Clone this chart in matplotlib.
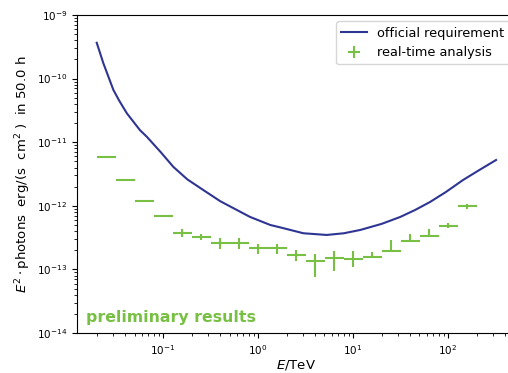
import matplotlib
matplotlib.use("Agg")
import matplotlib.pyplot as plt

# official requirement curve
req_energy = [0.02, 0.0235, 0.030, 0.0345, 0.0415, 0.057, 0.0673, 0.095,
              0.128, 0.18, 0.265, 0.40, 0.597, 0.82, 1.34, 1.79, 3.0, 5.28,
              8.0, 11.9, 20.0, 31.3, 45.0, 64.7, 95.0, 144, 210, 320]
req_sens = [3.66e-10, 1.74e-10, 6.6e-11, 4.5e-11, 2.85e-11, 1.55e-11,
            1.22e-11, 6.9e-12, 4.1e-12, 2.6e-12, 1.77e-12, 1.18e-12,
            8.6e-13, 6.7e-13, 5.0e-13, 4.5e-13, 3.7e-13, 3.48e-13,
            3.7e-13, 4.17e-13, 5.2e-13, 6.67e-13, 8.6e-13, 1.15e-12,
            1.65e-12, 2.55e-12, 3.6e-12, 5.25e-12]

# real-time analysis points, 5 bins per decade
bin_lo = [0.02, 0.0317, 0.0502, 0.0796, 0.126, 0.2, 0.317, 0.502, 0.796, 1.26,
          2.0, 3.17, 5.02, 7.96, 12.6, 20.0, 31.7, 50.2, 79.6, 126]
bin_hi = [0.0317, 0.0502, 0.0796, 0.126, 0.2, 0.317, 0.502, 0.796, 1.26, 2.0,
          3.17, 5.02, 7.96, 12.6, 20.0, 31.7, 50.2, 79.6, 126, 200]
bin_mid = [0.0252, 0.0399, 0.0632, 0.1, 0.159, 0.252, 0.399, 0.632, 1.0, 1.59,
           2.52, 3.99, 6.32, 10.0, 15.9, 25.2, 39.9, 63.2, 100, 159]
rta_sens = [5.8e-12, 2.5e-12, 1.2e-12, 6.8e-13, 3.8e-13, 3.2e-13, 2.6e-13,
            2.6e-13, 2.15e-13, 2.15e-13, 1.7e-13, 1.35e-13, 1.5e-13, 1.45e-13,
            1.55e-13, 1.95e-13, 2.8e-13, 3.4e-13, 4.9e-13, 9.8e-13]
err_lo = [1e-13, 5e-14, 2e-14, 1.5e-14, 5.5e-14, 3.5e-14, 5e-14, 5e-14, 4e-14,
          4e-14, 3.5e-14, 5.9e-14, 5.5e-14, 3.5e-14, 3e-15, 3e-15, 5e-15,
          5e-15, 4e-14, 8e-14]
err_hi = [1e-13, 5e-14, 2e-14, 1.5e-14, 5.5e-14, 3.5e-14, 5e-14, 5e-14, 4e-14,
          4e-14, 3.5e-14, 3.8e-14, 4.5e-14, 5e-14, 3.5e-14, 9.5e-14, 8e-14,
          9e-14, 4e-14, 8e-14]

x_ticks = [0.1, 1, 10, 100]

blue = "#2e3592"
green = "#77c043"

plt.rcParams["font.size"] = 7.5

fig = plt.figure(figsize=(5.08, 3.73), dpi=100)
ax = fig.add_axes([77 / 508, 40 / 373, 439 / 508, 318 / 373])

ax.plot(req_energy, req_sens, color=blue, lw=1.5, label="official requirement")

xerr = [[m - lo for m, lo in zip(bin_mid, bin_lo)],
        [hi - m for m, hi in zip(bin_mid, bin_hi)]]
ax.errorbar(bin_mid, rta_sens, xerr=xerr, yerr=[err_lo, err_hi],
            fmt="none", ecolor=green, elinewidth=1.5)
rta_handle, = ax.plot([], [], "+", color=green, ms=9, mew=1.5)

ax.set_xscale("log")
ax.set_yscale("log")
ax.set_xlim(0.0124, 519)
ax.set_ylim(1e-14, 1e-9)
ax.set_xticks(x_ticks)

ax.set_xlabel("$E$/TeV", fontsize=9.5, labelpad=1)
ax.set_ylabel(r"$E^2 \cdot$photons  erg/(s  cm$^2$ )  in 50.0 h",
              fontsize=9.5, labelpad=3)

ax.text(0.02, 0.035, "preliminary results", transform=ax.transAxes,
        color=green, fontsize=11.3, fontweight="bold")

line_handle = ax.get_lines()[0]
ax.legend([line_handle, rta_handle], ["official requirement", "real-time analysis"],
          loc="upper right", fontsize=9.3)

fig.savefig("out.png", dpi=100)
